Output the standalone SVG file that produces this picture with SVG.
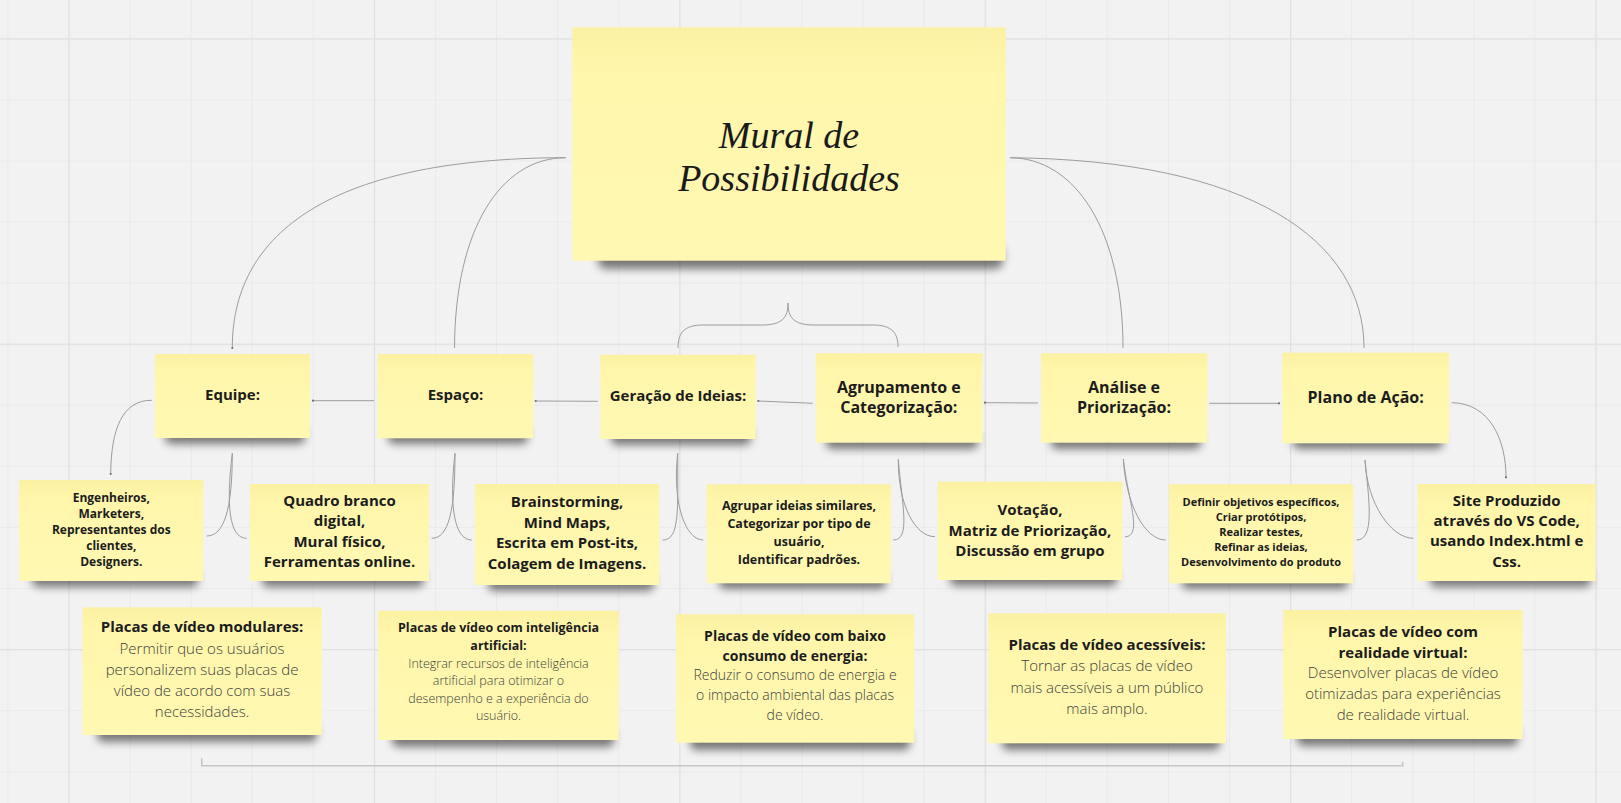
<svg xmlns="http://www.w3.org/2000/svg" width="1621" height="803" viewBox="0 0 1621 803">
<defs>
<style>
.bg{fill:#f2f2f2}
.note{fill:url(#ny)}
.shd{fill:#000;opacity:.5;filter:url(#blur)}
.t{font-family:"Open Sans","Liberation Sans",sans-serif;text-anchor:middle;fill:#1c1c1c;font-weight:700}
.r{font-weight:300;fill:#3e3e3e}
.title{font-family:"Liberation Serif","DejaVu Serif",serif;font-style:italic;font-size:38px;text-anchor:middle;fill:#1a1a1a}
.c{fill:none;stroke:#9c9c9c;stroke-width:1}
.br{fill:none;stroke:#c6c6c6;stroke-width:1.6}
</style>
<linearGradient id="ny" x1="0" y1="0" x2="0" y2="1">
<stop offset="0" stop-color="#fcf1a2"/>
<stop offset="0.18" stop-color="#fff6ab"/>
<stop offset="1" stop-color="#fff8b2"/>
</linearGradient>
<filter id="blur" x="-20%" y="-100%" width="140%" height="300%"><feGaussianBlur stdDeviation="4"/></filter>
<pattern id="minor" patternUnits="userSpaceOnUse" x="68.5" y="38.3" width="61.08" height="61.08">
<path d="M0,0 H61.08 M0,0 V61.08" fill="none" stroke="#e4e4e4" stroke-width="1.2"/>
</pattern>
<pattern id="major" patternUnits="userSpaceOnUse" x="68.5" y="38.3" width="305.4" height="305.4">
<path d="M0,0 H305.4 M0,0 V305.4" fill="none" stroke="#e0e0e0" stroke-width="2.4"/>
</pattern>
<marker id="dot" markerUnits="userSpaceOnUse" markerWidth="4" markerHeight="4" refX="2" refY="2"><circle cx="2" cy="2" r="1.1" fill="#6e6e6e"/></marker>
</defs>

<rect class="bg" x="0" y="0" width="1621" height="803"/>
<rect x="0" y="0" width="1621" height="803" fill="url(#minor)"/>
<rect x="0" y="0" width="1621" height="803" fill="url(#major)"/>

<g id="connectors">
<path class="c" d="M565.6,157.7 C320,158 232,240 232.3,348" marker-end="url(#dot)"/>
<path class="c" d="M565.6,157.7 C500,158 455,230 454.5,348"/>
<path class="c" d="M1010,157.7 C1075,158 1123,230 1123,348"/>
<path class="c" d="M1010,157.7 C1250,160 1364,240 1364,348"/>
<path class="c" d="M678,348 C678,334 683,325 703,325 L762,325 C783,325 788,317 788,303 M898,347 C898,334 893,325 873,325 L814,325 C793,325 788,317 788,303"/>
<path class="c" d="M374,400.7 L313,400.7" marker-end="url(#dot)"/>
<path class="c" d="M597.7,401.3 L535.7,401" marker-end="url(#dot)"/>
<path class="c" d="M812.7,403.3 L758.3,401" marker-end="url(#dot)"/>
<path class="c" d="M1038,403 L985,402.7" marker-end="url(#dot)"/>
<path class="c" d="M1209.3,403.3 L1279,403.3" marker-end="url(#dot)"/>
<path class="c" d="M151.7,400.3 C122,400 111,430 110.7,474" marker-end="url(#dot)"/>
<path class="c" d="M1451.7,402.7 C1490,403 1506,440 1506,477.3" marker-end="url(#dot)"/>
<path class="c" d="M232.3,453.3 C232.3,510 224,536 206.7,536 M232.3,453.3 C226,505 229,538.3 246.7,538.3"/>
<path class="c" d="M455,453.3 C455,510 449,538.3 431.7,538.3 M455,453.3 C449,505 454,540 471.7,540"/>
<path class="c" d="M677.7,453.3 C677.7,510 680,540 662.7,540 M677.7,453.3 C672,505 686,540 703.3,540"/>
<path class="c" d="M898.3,459.3 C902,505 911,540 893.3,540 M898.3,459.3 C898,505 915,536.7 935,536.7"/>
<path class="c" d="M1123.3,459 C1128,500 1143,536.7 1125,536.7 M1123.3,459 C1126,505 1145,540 1165.7,540"/>
<path class="c" d="M1365,460 C1369,500 1375,540 1356.7,540 M1365,460 C1367,505 1392,538.3 1413.3,538.3"/>
<path class="br" d="M201.7,758.3 L201.7,765.7 L1402.7,765.7 L1402.7,761.7"/>
</g>

<g id="main">
<rect class="shd" x="598" y="245" width="405" height="24" rx="8"/>
<rect class="note" x="572.3" y="27.4" width="433.4" height="233.3"/>
<text class="title" x="789" y="148.3">Mural de</text>
<text class="title" x="789" y="190.7">Possibilidades</text>
</g>

<g id="equipe">
<rect class="shd" x="165" y="426" width="140" height="18" rx="6"/>
<rect class="note" x="155" y="354" width="155" height="84"/>
<text class="t" x="232.5" y="400" font-size="15">Equipe:</text>
</g>
<g id="espaco">
<rect class="shd" x="388" y="426" width="140" height="18" rx="6"/>
<rect class="note" x="377.7" y="354" width="155.6" height="84.3"/>
<text class="t" x="455.5" y="400" font-size="15">Espaço:</text>
</g>
<g id="geracao">
<rect class="shd" x="611" y="427" width="140" height="18" rx="6"/>
<rect class="note" x="600.3" y="354.7" width="155.4" height="84.3"/>
<text class="t" x="678" y="401" font-size="15">Geração de Ideias:</text>
</g>
<g id="agrupamento">
<rect class="shd" x="826" y="431" width="152" height="18" rx="6"/>
<rect class="note" x="815.7" y="353.3" width="167" height="89.4"/>
<text class="t" x="898.8" font-size="16"><tspan x="898.8" y="392.7">Agrupamento e</tspan><tspan x="898.8" y="413.3">Categorização:</tspan></text>
</g>
<g id="analise">
<rect class="shd" x="1051" y="431" width="150" height="18" rx="6"/>
<rect class="note" x="1041" y="353.3" width="166.3" height="89.4"/>
<text class="t" x="1124" font-size="16"><tspan x="1124" y="392.7">Análise e</tspan><tspan x="1124" y="413.3">Priorização:</tspan></text>
</g>
<g id="plano">
<rect class="shd" x="1293" y="431" width="150" height="18" rx="6"/>
<rect class="note" x="1282.3" y="352.7" width="166.7" height="90.6"/>
<text class="t" x="1365.7" y="403.3" font-size="16">Plano de Ação:</text>
</g>

<g id="engenheiros">
<rect class="shd" x="32" y="569" width="166" height="18" rx="6"/>
<rect class="note" x="19.3" y="480" width="184" height="101"/>
<text class="t" font-size="12"><tspan x="111.3" y="501.7">Engenheiros,</tspan><tspan x="111.3" y="517.9">Marketers,</tspan><tspan x="111.3" y="534">Representantes dos</tspan><tspan x="111.3" y="550.2">clientes,</tspan><tspan x="111.3" y="566.4">Designers.</tspan></text>
</g>
<g id="quadro">
<rect class="shd" x="262" y="569" width="162" height="18" rx="6"/>
<rect class="note" x="250" y="484" width="179" height="97"/>
<text class="t" font-size="15"><tspan x="339.5" y="506">Quadro branco</tspan><tspan x="339.5" y="526.3">digital,</tspan><tspan x="339.5" y="546.6">Mural físico,</tspan><tspan x="339.5" y="566.9">Ferramentas online.</tspan></text>
</g>
<g id="brainstorming">
<rect class="shd" x="488" y="573" width="166" height="18" rx="6"/>
<rect class="note" x="475" y="484" width="184.3" height="101"/>
<text class="t" font-size="15"><tspan x="567" y="506.7">Brainstorming,</tspan><tspan x="567" y="527.5">Mind Maps,</tspan><tspan x="567" y="548.3">Escrita em Post-its,</tspan><tspan x="567" y="569.1">Colagem de Imagens.</tspan></text>
</g>
<g id="agrupar">
<rect class="shd" x="719" y="571" width="167" height="18" rx="6"/>
<rect class="note" x="706.7" y="484.3" width="184.3" height="99"/>
<text class="t" font-size="12.5"><tspan x="799" y="510">Agrupar ideias similares,</tspan><tspan x="799" y="528">Categorizar por tipo de</tspan><tspan x="799" y="546">usuário,</tspan><tspan x="799" y="564">Identificar padrões.</tspan></text>
</g>
<g id="votacao">
<rect class="shd" x="950" y="568" width="167" height="18" rx="6"/>
<rect class="note" x="937.7" y="481.7" width="184.8" height="98.3"/>
<text class="t" font-size="15"><tspan x="1030" y="515">Votação,</tspan><tspan x="1030" y="535.5">Matriz de Priorização,</tspan><tspan x="1030" y="556">Discussão em grupo</tspan></text>
</g>
<g id="definir">
<rect class="shd" x="1182" y="571" width="166" height="18" rx="6"/>
<rect class="note" x="1169" y="484.3" width="184.3" height="99"/>
<text class="t" font-size="11"><tspan x="1261" y="505.7">Definir objetivos específicos,</tspan><tspan x="1261" y="520.7">Criar protótipos,</tspan><tspan x="1261" y="535.7">Realizar testes,</tspan><tspan x="1261" y="550.7">Refinar as ideias,</tspan><tspan x="1261" y="565.7">Desenvolvimento do produto</tspan></text>
</g>
<g id="site">
<rect class="shd" x="1430" y="569" width="161" height="18" rx="6"/>
<rect class="note" x="1417.7" y="484" width="178" height="97"/>
<text class="t" font-size="15"><tspan x="1506.7" y="505.7">Site Produzido</tspan><tspan x="1506.7" y="526">através do VS Code,</tspan><tspan x="1506.7" y="546.3">usando Index.html e</tspan><tspan x="1506.7" y="566.6">Css.</tspan></text>
</g>

<g id="modulares">
<rect class="shd" x="97" y="722" width="220" height="20" rx="6"/>
<rect class="note" x="82.7" y="607.3" width="239" height="127.7"/>
<text class="t" font-size="15"><tspan x="202" y="632.3">Placas de vídeo modulares:</tspan><tspan class="r" x="202" y="654">Permitir que os usuários</tspan><tspan class="r" x="202" y="675">personalizem suas placas de</tspan><tspan class="r" x="202" y="696">vídeo de acordo com suas</tspan><tspan class="r" x="202" y="716.7">necessidades.</tspan></text>
</g>
<g id="ia">
<rect class="shd" x="392" y="727" width="222" height="20" rx="6"/>
<rect class="note" x="378.3" y="610.7" width="240.5" height="129.3"/>
<text class="t" font-size="12.5"><tspan x="498.5" y="632.3">Placas de vídeo com inteligência</tspan><tspan x="498.5" y="650">artificial:</tspan><tspan class="r" x="498.5" y="667.6">Integrar recursos de inteligência</tspan><tspan class="r" x="498.5" y="685.2">artificial para otimizar o</tspan><tspan class="r" x="498.5" y="702.8">desempenho e a experiência do</tspan><tspan class="r" x="498.5" y="720.4">usuário.</tspan></text>
</g>
<g id="baixo">
<rect class="shd" x="690" y="730" width="220" height="20" rx="6"/>
<rect class="note" x="676" y="614.3" width="238.3" height="128.4"/>
<text class="t" font-size="14"><tspan x="795" y="641">Placas de vídeo com baixo</tspan><tspan x="795" y="660.7">consumo de energia:</tspan><tspan class="r" x="795" y="680.4">Reduzir o consumo de energia e</tspan><tspan class="r" x="795" y="700.1">o impacto ambiental das placas</tspan><tspan class="r" x="795" y="719.8">de vídeo.</tspan></text>
</g>
<g id="acessiveis">
<rect class="shd" x="1002" y="730" width="218" height="20" rx="6"/>
<rect class="note" x="988.3" y="613.3" width="237.7" height="130"/>
<text class="t" font-size="15"><tspan x="1107" y="650">Placas de vídeo acessíveis:</tspan><tspan class="r" x="1107" y="671.3">Tornar as placas de vídeo</tspan><tspan class="r" x="1107" y="692.6">mais acessíveis a um público</tspan><tspan class="r" x="1107" y="713.9">mais amplo.</tspan></text>
</g>
<g id="realidade">
<rect class="shd" x="1297" y="726" width="221" height="20" rx="6"/>
<rect class="note" x="1283.3" y="610" width="239.4" height="129"/>
<text class="t" font-size="15"><tspan x="1403" y="636.7">Placas de vídeo com</tspan><tspan x="1403" y="657.5">realidade virtual:</tspan><tspan class="r" x="1403" y="678.3">Desenvolver placas de vídeo</tspan><tspan class="r" x="1403" y="699.1">otimizadas para experiências</tspan><tspan class="r" x="1403" y="719.9">de realidade virtual.</tspan></text>
</g>
</svg>
